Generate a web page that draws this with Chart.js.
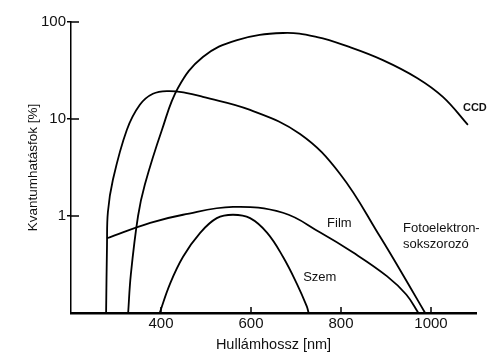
<!DOCTYPE html>
<html>
<head>
<meta charset="utf-8">
<script src="https://cdn.jsdelivr.net/npm/chart.js@4/dist/chart.umd.min.js"></script>
<style>
  html, body { margin: 0; padding: 0; background: #fff; }
  #wrap { width: 500px; height: 362px; }
</style>
</head>
<body>
<div id="wrap"><canvas id="chart" width="500" height="362"></canvas></div>
<script>
// wavelength [nm] / quantum efficiency [%]
const ccd = [[327,0.1],[333,0.25],[349,1.0],[364,2.1],[402,7.7],[438,21],[493,43.6],[569,65.2],[671,77],[747,70],[820,55],[893,40.5],[969,26.5],[1027,16.8],[1082,8.7]];
const pmt = [[278,0.1],[280,0.5],[282,1.1],[293,2.35],[324,7.7],[353,14],[382,18.2],[416,19.4],[455,18.6],[493,16.9],[598,12.4],[709,7.0],[798,2.71],[887,0.61],[955,0.18],[987,0.1]];
const film = [[280,0.59],[376,0.85],[449,1.03],[560,1.24],[671,1.08],[753,0.68],[827,0.42],[902,0.24],[945,0.155],[972,0.1]];
const szem = [[397,0.1],[420,0.2],[449,0.38],[487,0.67],[524,0.95],[560,1.03],[598,0.95],[636,0.67],[671,0.38],[702,0.2],[724,0.117],[728,0.1]];

const xTicks = [400, 600, 800, 1000];
const yTicks = [1, 10, 100];

// curve names, placed at [wavelength, efficiency]
const curveLabels = [
  { text: 'CCD', at: [1071, 13.1], font: 'bold 11px "Liberation Sans", Arial, sans-serif' },
  { text: 'Film', at: [769, 0.83] },
  { text: 'Fotoelektron-', at: [938, 0.75] },
  { text: 'sokszorozó', at: [938, 0.51] },
  { text: 'Szem', at: [716, 0.235] }
];

const FONT = '"Liberation Sans", Arial, sans-serif';

function toPoints(arr) { return arr.map(p => ({ x: p[0], y: p[1] })); }

function line(data) {
  return {
    data: toPoints(data),
    borderColor: '#000',
    borderWidth: 1.8,
    pointRadius: 0,
    fill: false,
    tension: 0.4
  };
}

const extras = {
  id: 'extras',
  afterDraw(chart) {
    const { ctx, scales: { x, y }, chartArea } = chart;
    ctx.save();
    ctx.strokeStyle = '#000';
    ctx.lineWidth = 1.5;
    // x ticks point up into the plot
    xTicks.forEach(v => {
      const px = x.getPixelForValue(v);
      ctx.beginPath();
      ctx.moveTo(px, chartArea.bottom);
      ctx.lineTo(px, chartArea.bottom - 6);
      ctx.stroke();
    });
    // y ticks also reach inside
    yTicks.forEach(v => {
      const py = y.getPixelForValue(v);
      ctx.beginPath();
      ctx.moveTo(chartArea.left, py);
      ctx.lineTo(chartArea.left + 8, py);
      ctx.stroke();
    });
    ctx.fillStyle = '#111';
    ctx.textBaseline = 'middle';
    ctx.textAlign = 'left';
    curveLabels.forEach(l => {
      ctx.font = l.font || '13px ' + FONT;
      ctx.fillText(l.text, x.getPixelForValue(l.at[0]), y.getPixelForValue(l.at[1]));
    });
    ctx.restore();
  }
};

new Chart(document.getElementById('chart'), {
  type: 'line',
  data: { datasets: [line(ccd), line(pmt), line(film), line(szem)] },
  options: {
    responsive: false,
    animation: false,
    layout: { padding: { top: 22, right: 24, left: 0, bottom: 0 } },
    plugins: { legend: { display: false }, tooltip: { enabled: false } },
    scales: {
      x: {
        type: 'linear',
        min: 200,
        max: 1100,
        afterFit: s => { s.height = 49; },
        afterBuildTicks: s => { s.ticks = xTicks.map(v => ({ value: v })); },
        grid: { display: false, drawTicks: false },
        border: { display: true, color: '#000', width: 2.5 },
        ticks: { color: '#111', padding: 2, maxRotation: 0, font: { family: FONT, size: 15 }, callback: v => String(v) },
        title: { display: true, text: 'Hullámhossz [nm]', color: '#111', padding: { top: 0, bottom: 8 }, font: { family: FONT, size: 14.5 } }
      },
      y: {
        type: 'logarithmic',
        min: 0.1,
        max: 100,
        afterFit: s => { s.width = 71; },
        afterBuildTicks: s => { s.ticks = yTicks.map(v => ({ value: v })); },
        grid: { drawOnChartArea: false, drawTicks: true, tickLength: 4, color: '#000', lineWidth: 1.5 },
        border: { display: true, color: '#000', width: 1.5 },
        ticks: { color: '#111', padding: 1, font: { family: FONT, size: 15 }, callback: v => String(v) },
        title: { display: true, text: 'Kvantumhatásfok [%]', color: '#111', padding: { top: 25, bottom: 0 }, font: { family: FONT, size: 13.5 } }
      }
    }
  },
  plugins: [extras]
});
</script>
</body>
</html>
